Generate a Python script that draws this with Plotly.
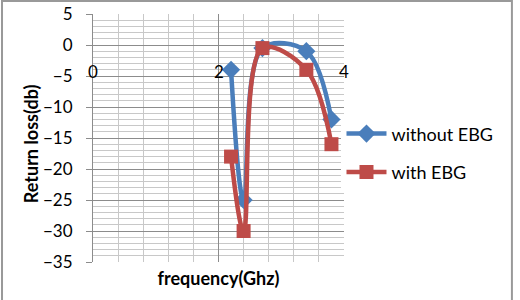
import plotly.graph_objects as go

freq = [2.2, 2.4, 2.7, 3.4, 3.8]
without_ebg = [-4, -25, -0.5, -1, -12]
with_ebg = [-18, -30, -0.5, -4, -16]
x_tick_vals = [0, 2, 4]
x_tick_text = ["0", "2", "4"]

BLUE = "#4A7EBB"
RED = "#BE4B48"
GREEN = "#9BBB59"
FONT = "Lato"

fig = go.Figure()
fig.add_trace(go.Scatter(
    x=freq, y=without_ebg, mode="markers", showlegend=False,
    marker=dict(symbol="triangle-up", size=9, color=GREEN), hoverinfo="skip"))
fig.add_trace(go.Scatter(
    x=freq, y=without_ebg, name="without EBG", mode="lines+markers", legendgroup="a",
    line=dict(color=BLUE, width=4.5, shape="spline", smoothing=1),
    marker=dict(symbol="diamond", size=14, color=BLUE)))
fig.add_trace(go.Scatter(
    x=freq, y=with_ebg, name="with EBG", mode="lines+markers", legendgroup="b",
    line=dict(color=RED, width=4.5, shape="spline", smoothing=1),
    marker=dict(symbol="square", size=14, color=RED)))

for v, t in zip(x_tick_vals, x_tick_text):
    fig.add_annotation(x=v, y=-4.35, xref="x", yref="y", text=t, showarrow=False,
                       font=dict(family=FONT, size=17, color="black"),
                       xanchor="center", yanchor="middle")

fig.add_annotation(x=-0.247, y=0.475, xref="paper", yref="paper",
                   text="<b>Return loss(db)</b>", textangle=-90, showarrow=False,
                   font=dict(family=FONT, size=18, color="black"),
                   xanchor="center", yanchor="middle")

fig.update_layout(
    width=520, height=300,
    margin=dict(l=93, r=176, t=14, b=38, autoexpand=False),
    paper_bgcolor="white", plot_bgcolor="white",
    font=dict(family=FONT, size=17, color="black"),
    showlegend=True,
    legend=dict(x=0.99, y=0.44, xanchor="left", yanchor="middle",
                font=dict(family=FONT, size=18, color="black"),
                tracegroupgap=12, itemwidth=40),
    xaxis=dict(range=[0, 4], dtick=2, tick0=0, showticklabels=False, automargin=False,
               showgrid=True, gridcolor="#8c8c8c", gridwidth=1,
               minor=dict(dtick=0.4, showgrid=True, gridcolor="#c8c8c8", gridwidth=1),
               zeroline=False, showline=False, ticks="",
               title=dict(text="<b>frequency(Ghz)</b>", font=dict(family=FONT, size=18),
                          standoff=10)),
    yaxis=dict(range=[-35, 5], dtick=5, tick0=0, automargin=False,
               showgrid=True, gridcolor="#8c8c8c", gridwidth=1,
               minor=dict(dtick=1, showgrid=True, gridcolor="#c8c8c8", gridwidth=1),
               zeroline=False, showline=True, linecolor="#8c8c8c", linewidth=1,
               ticks="outside", ticklen=6, tickcolor="#8c8c8c", ticklabelstandoff=10,
               tickfont=dict(family=FONT, size=17)),
    shapes=[dict(type="rect", xref="paper", yref="paper",
                 x0=-0.3625, x1=1.669, y0=-0.161, y1=1.052,
                 line=dict(color="#999999", width=2), layer="below")],
)

fig.write_html("out.html")
